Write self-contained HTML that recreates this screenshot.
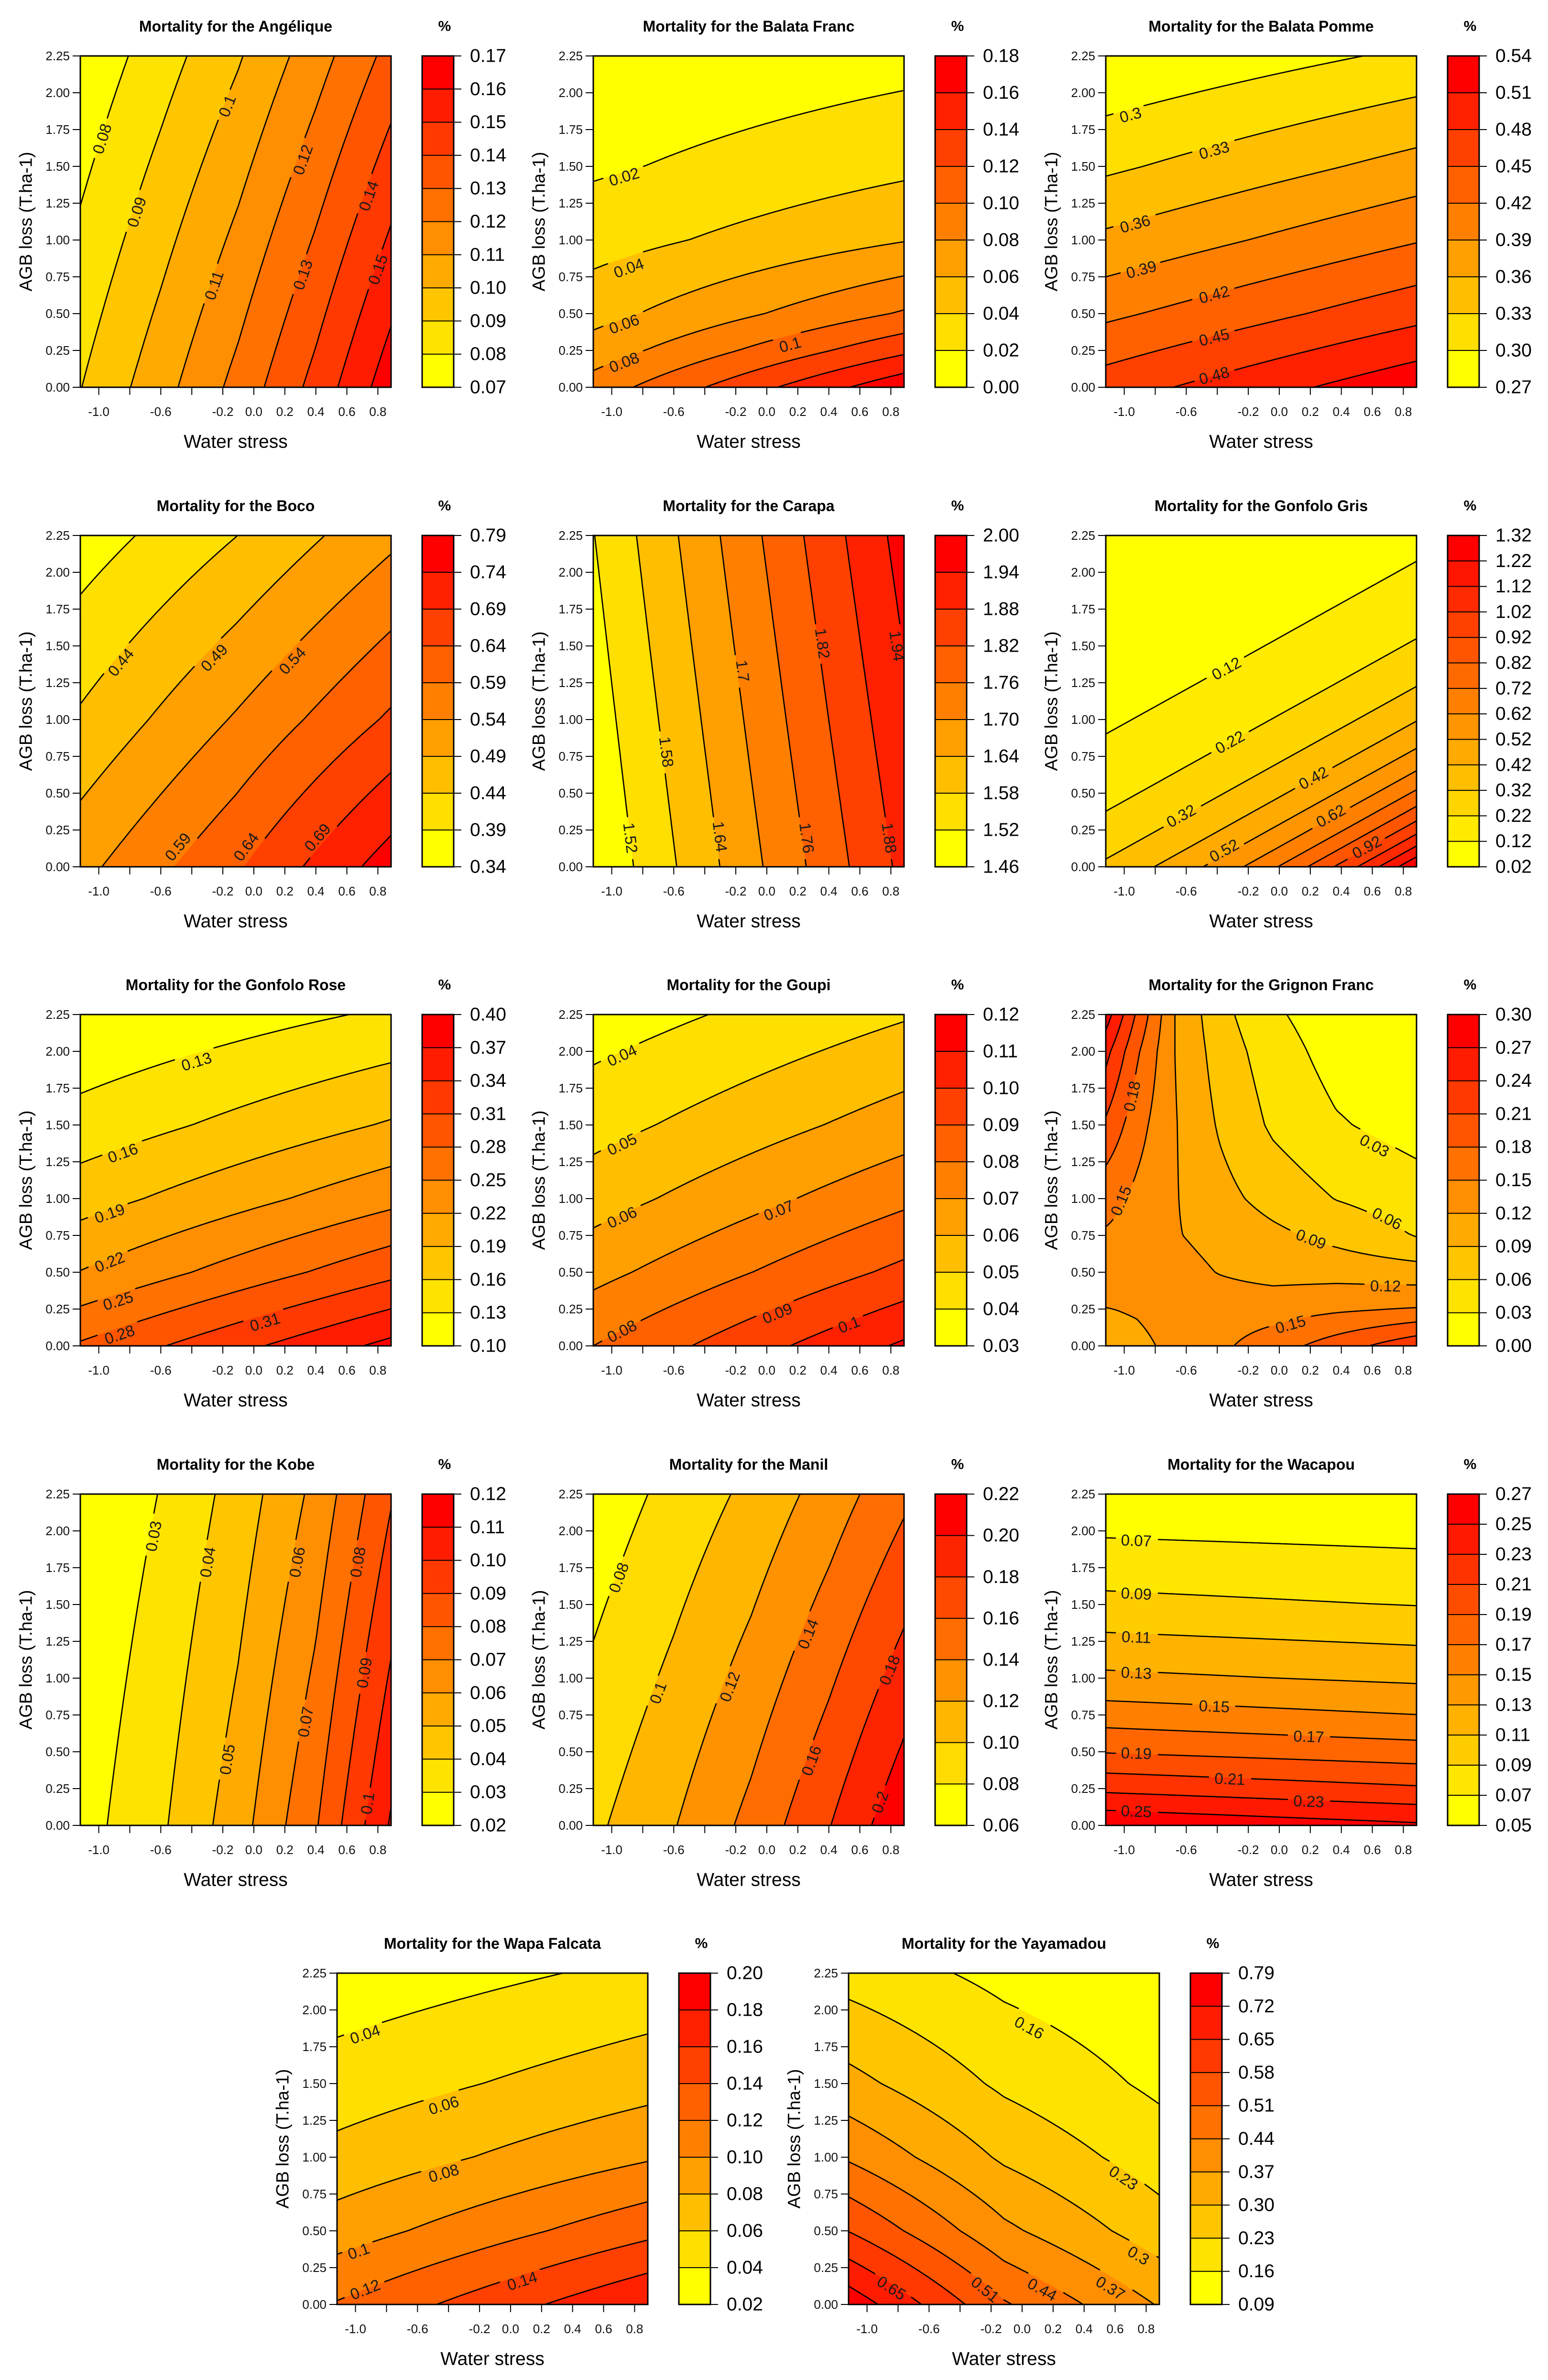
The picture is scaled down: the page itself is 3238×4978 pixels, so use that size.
<!DOCTYPE html>
<html><head><meta charset="utf-8">
<style>
html,body{margin:0;padding:0;background:#fff;}
#wrap{position:relative;width:3238px;height:4978px;overflow:hidden;background:#fff;}
#wrap canvas{position:absolute;}
#svg{position:absolute;left:0;top:0;}
#svg text{font-family:"Liberation Sans",Arial,sans-serif;}
</style></head>
<body>
<div id="wrap">
<svg id="svg" xmlns="http://www.w3.org/2000/svg" width="3238" height="4978"></svg>
</div>
<script>
// ---------- data (x = water stress, y = AGB loss, z = mortality %) ----------
const XL = -1.119, XR = 0.885;
const xs5 = [-1.119, -0.6, -0.1, 0.4, 0.885];

const angeliqueXs = xs5;
const angeliqueYs = [0, 2.25];
const angeliqueZ = [[0.0897, 0.1062, 0.1233, 0.1434, 0.166], [0.072, 0.0854, 0.099, 0.1156, 0.1334]];
const angeliqueLevels = [0.07,0.08,0.09,0.10,0.11,0.12,0.13,0.14,0.15,0.16,0.17];
const angeliqueLabels = [[0.08,-0.979,1.688],[0.09,-0.756,1.19],[0.10,-0.172,1.91],[0.11,-0.257,0.692],[0.12,0.316,1.545],[0.13,0.316,0.764],[0.14,0.74,1.30],[0.15,0.80,0.80]];

const balataFrancXs = [XL, XR];
const balataFrancYs = [0, 0.25, 0.5, 1, 1.5, 2.25];
const balataFrancZ = [[0.089,0.175],[0.069,0.1356],[0.0527,0.1022],[0.0316,0.059],[0.017,0.0354],[0.003,0.013]];
const balataFrancLevels = [0.00,0.02,0.04,0.06,0.08,0.10,0.12,0.14,0.16,0.18];
const balataFrancLabels = [[0.02,-0.92,1.43],[0.04,-0.89,0.81],[0.06,-0.92,0.43],[0.08,-0.92,0.17],[0.10,0.15,0.29]];

const balataPommeXs = [XL, XR];
const balataPommeYs = [0, 0.5, 1, 1.5, 2.25];
const balataPommeZ = [[0.4656,0.532],[0.4136,0.470],[0.3664,0.418],[0.3244,0.371],[0.271,0.306]];
const balataPommeLevels = [0.27,0.30,0.33,0.36,0.39,0.42,0.45,0.48,0.51,0.54];
const balataPommeLabels = [[0.30,-0.96,1.85],[0.33,-0.42,1.61],[0.36,-0.93,1.11],[0.39,-0.89,0.80],[0.42,-0.42,0.63],[0.45,-0.42,0.34],[0.48,-0.42,0.08]];

const bocoXs = [XL, -0.117, XR];
const bocoYs = [0, 1, 2.25];
const bocoZ = [[0.525,0.633,0.765],[0.447,0.545,0.648],[0.363,0.439,0.528]];
const bocoLevels = [0.34,0.39,0.44,0.49,0.54,0.59,0.64,0.69,0.74,0.79];
const bocoLabels = [[0.44,-0.858,1.389],[0.49,-0.256,1.42],[0.54,0.248,1.40],[0.59,-0.49,0.136],[0.64,-0.05,0.136],[0.69,0.41,0.20]];

const carapaXs = [XL, XR];
const carapaYs = [0, 2.25];
const carapaZ = [[1.464,1.896],[1.518,1.964]];
const carapaLevels = [1.46,1.52,1.58,1.64,1.70,1.76,1.82,1.88,1.94,2.00];
const carapaLabels = [[1.52,-0.879,0.196],[1.58,-0.647,0.78],[1.64,-0.302,0.205],[1.70,-0.155,1.33],[1.76,0.258,0.196],[1.82,0.359,1.517],[1.88,0.79,0.196],[1.94,0.84,1.50]];

const gonfoloGrisXs = [XL, 0, XR];
const gonfoloGrisYs = [0, 0.75, 1.5, 2.25];
const gonfoloGrisZ = [[0.340,0.725,1.32],[0.143,0.305,0.554],[0.060,0.128,0.233],[0.025,0.054,0.098]];
const gonfoloGrisLevels = [0.02,0.12,0.22,0.32,0.42,0.52,0.62,0.72,0.82,0.92,1.02,1.12,1.22,1.32];
const gonfoloGrisLabels = [[0.12,-0.341,1.347],[0.22,-0.319,0.847],[0.32,-0.633,0.346],[0.42,0.22,0.604],[0.52,-0.356,0.111],[0.62,0.332,0.346],[0.92,0.564,0.134]];

const gonfoloRoseXs = [XL, XR];
const gonfoloRoseYs = [0, 0.5, 1, 1.5, 2.25];
const gonfoloRoseZ = [[0.284,0.3785],[0.221,0.302],[0.177,0.241],[0.1415,0.193],[0.101,0.1345]];
const gonfoloRoseLevels = [0.10,0.13,0.16,0.19,0.22,0.25,0.28,0.31,0.34,0.37,0.40];
const gonfoloRoseLabels = [[0.13,-0.37,1.931],[0.16,-0.845,1.31],[0.19,-0.93,0.90],[0.22,-0.93,0.57],[0.25,-0.875,0.306],[0.28,-0.866,0.077],[0.31,0.072,0.162]];

const goupiXs = [XL, XR];
const goupiYs = [0, 0.5, 1, 1.5, 2.25];
const goupiZ = [[0.08,0.1116],[0.0668,0.0926],[0.0555,0.0777],[0.0463,0.0648],[0.0347,0.049]];
const goupiLevels = [0.03,0.04,0.05,0.06,0.07,0.08,0.09,0.10,0.11,0.12];
const goupiLabels = [[0.04,-0.934,1.973],[0.05,-0.934,1.369],[0.06,-0.934,0.873],[0.07,0.077,0.92],[0.08,-0.934,0.10],[0.09,0.068,0.221],[0.10,0.53,0.145]];

const grignonXs = [-1.119, -0.919, -0.674, -0.388, -0.04, 0.368, 0.885];
const grignonYs = [0, 0.25, 0.5, 0.75, 1.0, 1.5, 2.0, 2.25];
const grignonZ = [
  [0.105,0.112,0.128,0.144,0.166,0.195,0.232],
  [0.119,0.123,0.133,0.135,0.137,0.145,0.152],
  [0.142,0.138,0.130,0.119,0.110,0.109,0.103],
  [0.147,0.140,0.122,0.111,0.097,0.081,0.0585],
  [0.160,0.143,0.122,0.100,0.079,0.059,0.044],
  [0.205,0.162,0.122,0.087,0.055,0.033,0.018],
  [0.250,0.185,0.120,0.077,0.044,0.018,0.008],
  [0.285,0.206,0.120,0.070,0.035,0.012,0.005]];
const grignonLevels = [0.00,0.03,0.06,0.09,0.12,0.15,0.18,0.21,0.24,0.27,0.30];
const grignonLabels = [[0.18,-0.95,1.695],[0.15,-1.021,0.986],[0.03,0.614,1.36],[0.06,0.695,0.865],[0.09,0.205,0.725],[0.12,0.685,0.407],[0.15,0.072,0.146]];

const kobeXs = xs5;
const kobeYs = [0, 2.25];
const kobeZ = [[0.0258,0.0384,0.0557,0.0791,0.1112],[0.0205,0.0304,0.0441,0.0627,0.089]];
const kobeLevels = [0.02,0.03,0.04,0.05,0.06,0.07,0.08,0.09,0.10,0.11,0.12];
const kobeLabels = [[0.03,-0.647,1.964],[0.04,-0.298,1.788],[0.06,0.279,1.788],[0.08,0.67,1.788],[0.05,-0.172,0.448],[0.07,0.333,0.703],[0.09,0.712,1.036],[0.10,0.733,0.15]];

const manilXs = xs5;
const manilYs = [0, 2.25];
const manilZ = [[0.0959,0.1189,0.146,0.179,0.216],[0.0673,0.086,0.105,0.1289,0.1557]];
const manilLevels = [0.06,0.08,0.10,0.12,0.14,0.16,0.18,0.20,0.22];
const manilLabels = [[0.08,-0.955,1.683],[0.10,-0.702,0.90],[0.12,-0.239,0.942],[0.14,0.266,1.30],[0.16,0.287,0.44],[0.18,0.792,1.055],[0.20,0.73,0.158]];

const wacapouXs = [XL, XR];
const wacapouYs = [0, 0.25, 0.5, 0.75, 1.0, 1.5, 2.25];
const wacapouZ = [[0.267,0.253],[0.2255,0.2126],[0.1888,0.179],[0.16,0.1502],[0.1343,0.1265],[0.0952,0.0894],[0.0535,0.051]];
const wacapouLevels = [0.05,0.07,0.09,0.11,0.13,0.15,0.17,0.19,0.21,0.23,0.25,0.27];
const wacapouLabels = [[0.07,-0.922,1.935],[0.09,-0.922,1.574],[0.11,-0.922,1.279],[0.13,-0.922,1.036],[0.15,-0.419,0.809],[0.17,0.19,0.604],[0.19,-0.922,0.49],[0.21,-0.319,0.316],[0.23,0.19,0.164],[0.25,-0.922,0.096]];

const wapaXs = [XL, XR];
const wapaYs = [0, 0.5, 1, 1.5, 2.25];
const wapaZ = [[0.1216,0.179],[0.0899,0.1344],[0.0661,0.0979],[0.049,0.0725],[0.0275,0.0447]];
const wapaLevels = [0.02,0.04,0.06,0.08,0.10,0.12,0.14,0.16,0.18,0.20];
const wapaLabels = [[0.04,-0.938,1.835],[0.06,-0.431,1.353],[0.08,-0.431,0.892],[0.10,-0.98,0.362],[0.12,-0.938,0.102],[0.14,0.075,0.16]];

const yayamadouXs = [XL, -0.117, XR];
const yayamadouYs = [0, 0.5, 1, 1.5, 2.25];
const yayamadouZ = [[0.767,0.518,0.365],[0.578,0.386,0.262],[0.431,0.289,0.196],[0.322,0.217,0.146],[0.2015,0.14,0.10]];
const yayamadouLevels = [0.09,0.16,0.23,0.30,0.37,0.44,0.51,0.58,0.65,0.72,0.79];
const yayamadouLabels = [[0.16,0.046,1.88],[0.23,0.654,0.86],[0.30,0.751,0.333],[0.37,0.57,0.112],[0.44,0.13,0.102],[0.51,-0.238,0.102],[0.65,-0.842,0.112]];

const yTickValues = [0,0.25,0.5,0.75,1,1.25,1.5,1.75,2,2.25];
const xTickValues = [-1.0,-0.8,-0.6,-0.4,-0.2,0,0.2,0.4,0.6,0.8];
const xTickLabels = [[-1.0,'-1.0'],[-0.6,'-0.6'],[-0.2,'-0.2'],[0,'0.0'],[0.2,'0.2'],[0.4,'0.4'],[0.6,'0.6'],[0.8,'0.8']];

const panels = [
 {key:'angelique', title:'Mortality for the Angélique', xs:angeliqueXs, ys:angeliqueYs, z:angeliqueZ, levels:angeliqueLevels, labels:angeliqueLabels},
 {key:'balata-franc', title:'Mortality for the Balata Franc', xs:balataFrancXs, ys:balataFrancYs, z:balataFrancZ, levels:balataFrancLevels, labels:balataFrancLabels},
 {key:'balata-pomme', title:'Mortality for the Balata Pomme', xs:balataPommeXs, ys:balataPommeYs, z:balataPommeZ, levels:balataPommeLevels, labels:balataPommeLabels},
 {key:'boco', title:'Mortality for the Boco', xs:bocoXs, ys:bocoYs, z:bocoZ, levels:bocoLevels, labels:bocoLabels},
 {key:'carapa', title:'Mortality for the Carapa', xs:carapaXs, ys:carapaYs, z:carapaZ, levels:carapaLevels, labels:carapaLabels},
 {key:'gonfolo-gris', title:'Mortality for the Gonfolo Gris', xs:gonfoloGrisXs, ys:gonfoloGrisYs, z:gonfoloGrisZ, levels:gonfoloGrisLevels, labels:gonfoloGrisLabels, log:true},
 {key:'gonfolo-rose', title:'Mortality for the Gonfolo Rose', xs:gonfoloRoseXs, ys:gonfoloRoseYs, z:gonfoloRoseZ, levels:gonfoloRoseLevels, labels:gonfoloRoseLabels},
 {key:'goupi', title:'Mortality for the Goupi', xs:goupiXs, ys:goupiYs, z:goupiZ, levels:goupiLevels, labels:goupiLabels},
 {key:'grignon-franc', title:'Mortality for the Grignon Franc', xs:grignonXs, ys:grignonYs, z:grignonZ, levels:grignonLevels, labels:grignonLabels},
 {key:'kobe', title:'Mortality for the Kobe', xs:kobeXs, ys:kobeYs, z:kobeZ, levels:kobeLevels, labels:kobeLabels},
 {key:'manil', title:'Mortality for the Manil', xs:manilXs, ys:manilYs, z:manilZ, levels:manilLevels, labels:manilLabels},
 {key:'wacapou', title:'Mortality for the Wacapou', xs:wacapouXs, ys:wacapouYs, z:wacapouZ, levels:wacapouLevels, labels:wacapouLabels},
 {key:'wapa-falcata', title:'Mortality for the Wapa Falcata', xs:wapaXs, ys:wapaYs, z:wapaZ, levels:wapaLevels, labels:wapaLabels},
 {key:'yayamadou', title:'Mortality for the Yayamadou', xs:yayamadouXs, ys:yayamadouYs, z:yayamadouZ, levels:yayamadouLevels, labels:yayamadouLabels}
];

// ---------- rendering ----------
const NS = 'http://www.w3.org/2000/svg';
const svg = document.getElementById('svg');
const wrap = document.getElementById('wrap');
const W = 650, H = 693;

function mk(tag, parent) { const e = document.createElementNS(NS, tag); parent.appendChild(e); return e; }
function seg(arr, v) {
  const n = arr.length;
  if (v <= arr[0]) return [0, 0];
  if (v >= arr[n - 1]) return [n - 2, 1];
  for (let i = 0; i < n - 1; i++) if (v <= arr[i + 1]) return [i, (v - arr[i]) / (arr[i + 1] - arr[i])];
  return [n - 2, 1];
}
function zAt(p, x, y) {
  const [i, tx] = seg(p.xs, x), [j, ty] = seg(p.ys, y);
  const f = p.log ? Math.log : (v => v);
  const a = f(p.z[j][i]), b = f(p.z[j][i + 1]), c = f(p.z[j + 1][i]), d = f(p.z[j + 1][i + 1]);
  const v = (a * (1 - tx) + b * tx) * (1 - ty) + (c * (1 - tx) + d * tx) * ty;
  return p.log ? Math.exp(v) : v;
}
function xToPx(x) { return (x - XL) / (XR - XL) * W; }
function yToPx(y) { return H - y / 2.25 * H; }
function pxToX(px) { return XL + px / W * (XR - XL); }
function pxToY(py) { return (H - py) / H * 2.25; }
function bandColor(b, nb) { const g = Math.round(255 * (1 - b / (nb - 1))); return [255, g, 0]; }
function fmtLabel(v) { return String(Number(v.toFixed(2))); }

panels.forEach((p, idx) => {
  let L, T;
  if (idx < 12) { L = 168 + (idx % 3) * 1072.5; T = 117 + Math.floor(idx / 3) * 1002.5; }
  else { L = idx === 12 ? 705 : 1775; T = 4127; }
  L = Math.round(L); T = Math.round(T);
  const lv = p.levels, nb = lv.length - 1;

  const cv = document.createElement('canvas');
  cv.width = W; cv.height = H;
  cv.style.left = L + 'px'; cv.style.top = T + 'px';
  
  
  wrap.insertBefore(cv, svg);
  const ctx = cv.getContext('2d');
  const img = ctx.createImageData(W, H);
  for (let py = 0; py < H; py++) {
    const y = pxToY(py + 0.5);
    for (let px = 0; px < W; px++) {
      const z = zAt(p, pxToX(px + 0.5), y);
      let b = 0; while (b < nb - 1 && z >= lv[b + 1]) b++;
      const c = bandColor(b, nb), k = (py * W + px) * 4;
      img.data[k] = c[0]; img.data[k + 1] = c[1]; img.data[k + 2] = c[2]; img.data[k + 3] = 255;
    }
  }
  ctx.putImageData(img, 0, 0);

  const g = mk('g', svg);
  
  

  const NX = 130, NY = 139, gz = [];
  for (let j = 0; j <= NY; j++) { const row = []; for (let i = 0; i <= NX; i++) row.push(zAt(p, pxToX(i * W / NX), pxToY(j * H / NY))); gz.push(row); }
  const labelInfo = p.labels.map(l => {
    const px = xToPx(l[1]), py = yToPx(l[2]);
    const e = 1.5;
    const gx = zAt(p, pxToX(px + e), pxToY(py)) - zAt(p, pxToX(px - e), pxToY(py));
    const gy = zAt(p, pxToX(px), pxToY(py + e)) - zAt(p, pxToX(px), pxToY(py - e));
    let tx = -gy, ty = gx; if (tx < 0 || (tx === 0 && ty < 0)) { tx = -tx; ty = -ty; }
    const ang = Math.atan2(ty, tx) * 180 / Math.PI;
    const txt = fmtLabel(l[0]);
    return {v: l[0], px, py, ang, txt, r: txt.length * 9.5 + 8};
  });
  lv.forEach((level, li) => {
    const gaps = labelInfo.filter(q => Math.abs(q.v - level) < 1e-9);
    let d = '';
    for (let j = 0; j < NY; j++) for (let i = 0; i < NX; i++) {
      const cs = [[i, j], [i + 1, j], [i + 1, j + 1], [i, j + 1]];
      const pts = [];
      for (let e = 0; e < 4; e++) {
        const a = cs[e], b = cs[(e + 1) % 4];
        const za = gz[a[1]][a[0]], zb = gz[b[1]][b[0]];
        if ((za < level) !== (zb < level)) {
          const t = (level - za) / (zb - za);
          pts.push([(a[0] + (b[0] - a[0]) * t) * W / NX, (a[1] + (b[1] - a[1]) * t) * H / NY]);
        }
      }
      for (let s = 0; s + 1 < pts.length; s += 2) {
        const mx = (pts[s][0] + pts[s + 1][0]) / 2, my = (pts[s][1] + pts[s + 1][1]) / 2;
        if (gaps.some(q => Math.hypot(mx - q.px, my - q.py) < q.r)) continue;
        d += 'M' + (L + pts[s][0]).toFixed(1) + ' ' + (T + pts[s][1]).toFixed(1) + 'L' + (L + pts[s + 1][0]).toFixed(1) + ' ' + (T + pts[s + 1][1]).toFixed(1);
      }
    }
    if (d) {
      const path = mk('path', g);
      
      
      path.setAttribute('d', d);
      path.setAttribute('stroke', '#000');
      path.setAttribute('stroke-width', '2.6');
      path.setAttribute('stroke-linecap', 'round');
      path.setAttribute('fill', 'none');
    }
  });
  labelInfo.forEach(q => {
    const t = mk('text', g);
    
    
    const x = L + q.px, y = T + q.py;
    t.setAttribute('x', x.toFixed(1)); t.setAttribute('y', y.toFixed(1));
    t.setAttribute('text-anchor', 'middle'); t.setAttribute('dominant-baseline', 'central');
    t.setAttribute('font-size', '33'); t.setAttribute('fill', '#1a1a1a');
    t.setAttribute('transform', 'rotate(' + q.ang.toFixed(1) + ' ' + x.toFixed(1) + ' ' + y.toFixed(1) + ')');
    t.textContent = q.txt;
  });

  const br = mk('rect', g);
  
  
  br.setAttribute('x', L); br.setAttribute('y', T); br.setAttribute('width', W); br.setAttribute('height', H);
  br.setAttribute('fill', 'none'); br.setAttribute('stroke', '#000'); br.setAttribute('stroke-width', '3');

  yTickValues.forEach(v => {
    const yy = T + yToPx(v);
    const tk = mk('line', g);
    
    
    tk.setAttribute('x1', L - 16); tk.setAttribute('x2', L); tk.setAttribute('y1', yy); tk.setAttribute('y2', yy);
    tk.setAttribute('stroke', '#000'); tk.setAttribute('stroke-width', '2');
    const tl = mk('text', g);
    
    
    tl.setAttribute('x', L - 22); tl.setAttribute('y', yy);
    tl.setAttribute('text-anchor', 'end'); tl.setAttribute('dominant-baseline', 'central');
    tl.setAttribute('font-size', '26'); tl.setAttribute('fill', '#111');
    tl.textContent = v.toFixed(2);
  });
  xTickValues.forEach(v => {
    const xx = L + xToPx(v);
    const tk = mk('line', g);
    
    
    tk.setAttribute('x1', xx); tk.setAttribute('x2', xx); tk.setAttribute('y1', T + H); tk.setAttribute('y2', T + H + 16);
    tk.setAttribute('stroke', '#000'); tk.setAttribute('stroke-width', '2');
  });
  xTickLabels.forEach(a => {
    const tl = mk('text', g);
    
    
    tl.setAttribute('x', L + xToPx(a[0])); tl.setAttribute('y', T + H + 51);
    tl.setAttribute('text-anchor', 'middle'); tl.setAttribute('dominant-baseline', 'central');
    tl.setAttribute('font-size', '26'); tl.setAttribute('fill', '#111');
    tl.textContent = a[1];
  });
  const xt = mk('text', g);
  
  
  xt.setAttribute('x', L + W / 2); xt.setAttribute('y', T + H + 114);
  xt.setAttribute('text-anchor', 'middle'); xt.setAttribute('dominant-baseline', 'central');
  xt.setAttribute('font-size', '39'); xt.setAttribute('fill', '#000');
  xt.textContent = 'Water stress';
  const yt = mk('text', g);
  
  
  const ytx = L - 114, yty = T + H / 2;
  yt.setAttribute('x', ytx); yt.setAttribute('y', yty);
  yt.setAttribute('text-anchor', 'middle'); yt.setAttribute('dominant-baseline', 'central');
  yt.setAttribute('font-size', '37'); yt.setAttribute('fill', '#000');
  yt.setAttribute('transform', 'rotate(-90 ' + ytx + ' ' + yty + ')');
  yt.textContent = 'AGB loss (T.ha-1)';
  const ti = mk('text', g);
  
  
  ti.setAttribute('x', L + W / 2); ti.setAttribute('y', T - 62);
  ti.setAttribute('text-anchor', 'middle'); ti.setAttribute('dominant-baseline', 'central');
  ti.setAttribute('font-size', '32'); ti.setAttribute('font-weight', 'bold'); ti.setAttribute('fill', '#000');
  ti.textContent = p.title;
  const cbx = L + 715, cbw = 66;
  for (let b = 0; b < nb; b++) {
    const c = bandColor(b, nb);
    const r = mk('rect', g);
    
    
    const y1 = T + H * (1 - (b + 1) / nb), y0 = T + H * (1 - b / nb);
    r.setAttribute('x', cbx); r.setAttribute('y', y1.toFixed(1)); r.setAttribute('width', cbw); r.setAttribute('height', (y0 - y1).toFixed(1));
    r.setAttribute('fill', 'rgb(' + c.join(',') + ')');
  }
  lv.forEach((v, k) => {
    const yy = T + H * (1 - k / nb);
    const ln = mk('line', g);
    
    
    ln.setAttribute('x1', cbx); ln.setAttribute('x2', cbx + cbw + 16); ln.setAttribute('y1', yy); ln.setAttribute('y2', yy);
    ln.setAttribute('stroke', '#000'); ln.setAttribute('stroke-width', '2');
    const tl = mk('text', g);
    
    
    tl.setAttribute('x', cbx + 100); tl.setAttribute('y', yy);
    tl.setAttribute('dominant-baseline', 'central');
    tl.setAttribute('font-size', '39'); tl.setAttribute('fill', '#000');
    tl.textContent = v.toFixed(2);
  });
  const cbb = mk('rect', g);
  
  
  cbb.setAttribute('x', cbx); cbb.setAttribute('y', T); cbb.setAttribute('width', cbw); cbb.setAttribute('height', H);
  cbb.setAttribute('fill', 'none'); cbb.setAttribute('stroke', '#000'); cbb.setAttribute('stroke-width', '3');
  const pc = mk('text', g);
  
  
  pc.setAttribute('x', L + 762); pc.setAttribute('y', T - 62);
  pc.setAttribute('text-anchor', 'middle'); pc.setAttribute('dominant-baseline', 'central');
  pc.setAttribute('font-size', '30'); pc.setAttribute('font-weight', 'bold'); pc.setAttribute('fill', '#000');
  pc.textContent = '%';
});
</script>
</body></html>
